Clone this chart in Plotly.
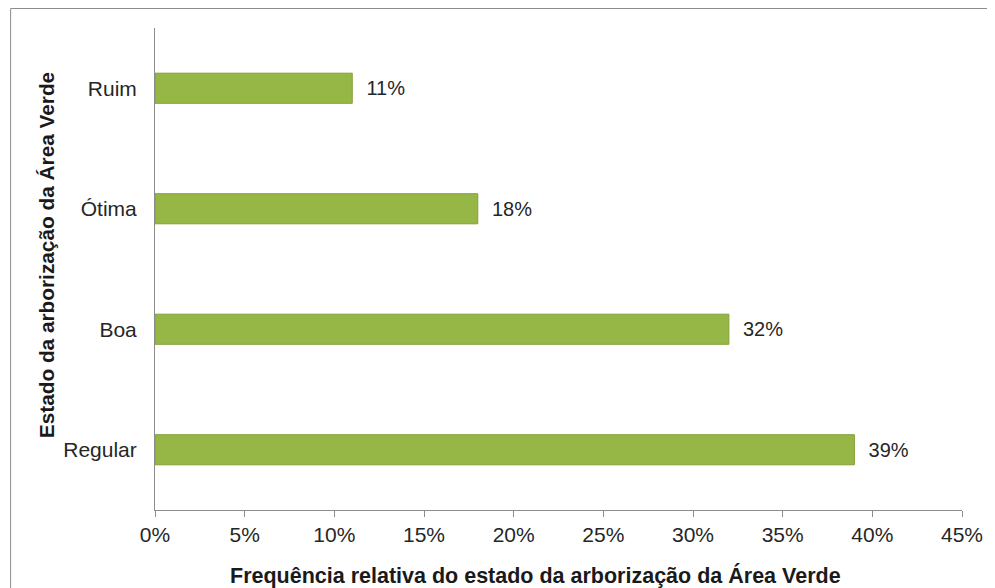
import plotly.graph_objects as go

categories = ["Regular", "Boa", "Ótima", "Ruim"]
values = [39, 32, 18, 11]
tick_vals = [0, 5, 10, 15, 20, 25, 30, 35, 40, 45]
tick_text = [f"{v}%" for v in tick_vals]

# page has an 8px default body margin; figure coordinates = page - 8
OFF = 8
W, H = 995 - OFF, 588 - OFF
L, R, T, B = 155 - OFF, 24, 28 - OFF, 588 - 510
pw, ph = W - L - R, H - T - B

FONT = "Liberation Sans, Arial, sans-serif"

fig = go.Figure()
fig.add_trace(go.Bar(
    y=categories, x=values, orientation="h",
    width=0.25,
    marker=dict(color="#96b745", line=dict(color="#82a03b", width=1)),
    text=[f"{v}%" for v in values], texttemplate="  %{text}",
    textposition="outside", cliponaxis=False,
    textfont=dict(family=FONT, size=20, color="#262626"),
))

fig.update_layout(
    width=W, height=H,
    margin=dict(l=L, r=R, t=T, b=B),
    paper_bgcolor="white", plot_bgcolor="white",
    showlegend=False,
    font=dict(family=FONT, size=21, color="#262626"),
    xaxis=dict(range=[0, 45], tickvals=tick_vals, ticktext=tick_text,
               showgrid=False, zeroline=False, showline=True, linecolor="#8c8c8c",
               linewidth=1, ticks="outside", ticklen=6, tickcolor="#8c8c8c",
               tickfont=dict(size=21), fixedrange=True),
    yaxis=dict(range=[-0.5, 3.5], showgrid=False, zeroline=False, showline=True,
               linecolor="#8c8c8c", linewidth=1, ticks="", ticklabelstandoff=13,
               tickfont=dict(size=21)),
    annotations=[
        dict(text="<b>Frequência relativa do estado da arborização da Área Verde</b>",
             xref="paper", yref="paper", x=(540 - 155) / pw, y=-(575 - 510) / ph,
             xanchor="center", yanchor="middle", showarrow=False,
             font=dict(size=21.5, color="#1a1a1a")),
        dict(text="<b>Estado da arborização da Área Verde</b>",
             xref="paper", yref="paper", x=(45 - 155) / pw, y=1 - (255 - 28) / ph,
             xanchor="center", yanchor="middle", showarrow=False, textangle=-90,
             font=dict(size=20.8, color="#1a1a1a")),
    ],
    shapes=[dict(type="rect", xref="paper", yref="paper",
                 x0=(9 - 155) / pw, x1=(1000 - 155) / pw,
                 y0=-(600 - 510) / ph, y1=1 + (T - 0.5) / ph,
                 line=dict(color="#8c8c8c", width=1), layer="below")],
)

fig.write_html("out.html")
